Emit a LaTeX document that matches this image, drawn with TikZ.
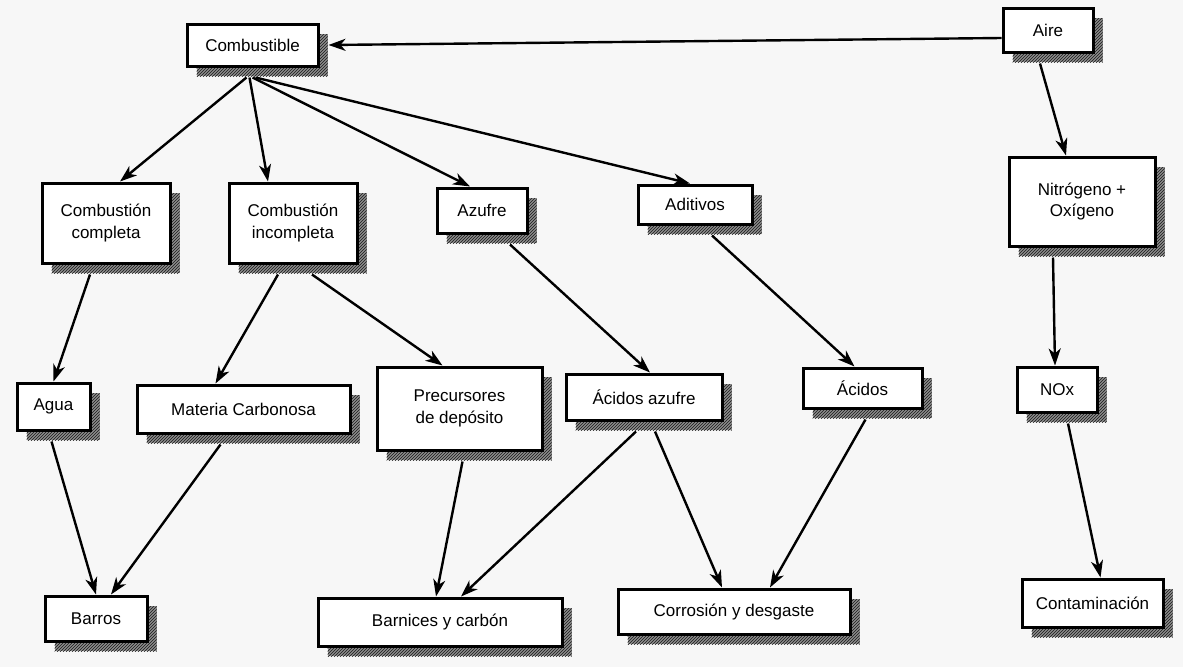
\documentclass[tikz,border=0pt]{standalone}
\usepackage{fontspec}
\setmainfont{Liberation Sans}
\usetikzlibrary{arrows.meta,shadows,patterns}

\begin{document}
\begin{tikzpicture}[x=1pt,y=-1pt,
  box/.style={draw=black, line width=3pt, fill=white, inner sep=0pt, align=center,
    font=\fontsize{17}{21.5}\selectfont,
    drop shadow={shadow xshift=9.5pt, shadow yshift=-10pt, opacity=1, fill=black!45},
    drop shadow={shadow xshift=9.5pt, shadow yshift=-10pt, opacity=1, pattern=north east lines, pattern color=black!90}},
  arr/.style={line width=2.4pt, -{Stealth[length=17pt,width=12pt,inset=5pt]}}]

\fill[black!3] (0,0) rectangle (1183,667);
\useasboundingbox (0,0) rectangle (1183,667);

% top row
\node[box, minimum width=131pt, minimum height=42pt] (comb) at (252.5,45) {Combustible};
\node[box, minimum width=90pt, minimum height=44pt] (aire) at (1048,30) {Aire};

% second row
\node[box, minimum width=128pt, minimum height=80pt] (cc) at (106,223) {Combustión\\completa};
\node[box, minimum width=128pt, minimum height=80pt] (ci) at (293,223) {Combustión\\incompleta};
\node[box, minimum width=90pt, minimum height=45pt] (azu) at (482,210.5) {Azufre};
\node[box, minimum width=114pt, minimum height=39pt] (adi) at (695,204.5) {Aditivos};
\node[box, minimum width=146pt, minimum height=89pt] (no) at (1082,201.5) {Nitrógeno +\\Oxígeno};

% third row
\node[box, minimum width=73pt, minimum height=47pt] (agua) at (53.5,406.5) {Agua};
\node[box, minimum width=213pt, minimum height=48pt] (mat) at (243.5,409) {Materia Carbonosa};
\node[box, minimum width=165pt, minimum height=83pt] (pre) at (459.5,408.5) {Precursores\\de depósito};
\node[box, minimum width=156pt, minimum height=46pt] (aaz) at (644,397) {Ácidos azufre};
\node[box, minimum width=119pt, minimum height=40pt] (aci) at (862.5,388) {Ácidos};
\node[box, minimum width=80pt, minimum height=45pt] (nox) at (1057,389.5) {NOx};

% bottom row
\node[box, minimum width=102pt, minimum height=45pt] (barros) at (96,618.5) {Barros};
\node[box, minimum width=244pt, minimum height=48pt] (barn) at (440,622) {Barnices y carbón};
\node[box, minimum width=232pt, minimum height=45pt] (corr) at (734,611.5) {Corrosión y desgaste};
\node[box, minimum width=141pt, minimum height=48pt] (cont) at (1092.5,603) {Contaminación};

% connectors
\draw[arr] ([yshift=-8pt]aire.west) -- ([xshift=9pt]comb.east);
\draw[arr] ([xshift=-6pt,yshift=-10pt]comb.south) -- ([xshift=14pt]cc.north);
\draw[arr] ([xshift=-3pt,yshift=-10pt]comb.south) -- ([xshift=-25pt]ci.north);
\draw[arr] ([xshift=0pt,yshift=-10pt]comb.south) -- ([xshift=-12pt]azu.north);
\draw[arr] ([xshift=3pt,yshift=-10pt]comb.south) -- ([xshift=-5pt]adi.north);

\draw[arr] ([xshift=-8pt,yshift=-10pt]aire.south) -- ([xshift=-16pt]no.north);
\draw[arr] ([xshift=-29pt,yshift=-10pt]no.south) -- ([xshift=-2pt]nox.north);
\draw[arr] ([xshift=11pt,yshift=-10pt]nox.south) -- ([xshift=8pt]cont.north);

\draw[arr] ([xshift=-16pt,yshift=-10pt]cc.south) -- (agua.north);
\draw[arr] ([xshift=-15pt,yshift=-10pt]ci.south) -- ([xshift=-28pt]mat.north);
\draw[arr] ([xshift=19pt,yshift=-10pt]ci.south) -- ([xshift=-17pt]pre.north);
\draw[arr] ([xshift=28pt,yshift=-10pt]azu.south) -- ([xshift=6pt]aaz.north);
\draw[arr] ([xshift=17pt,yshift=-10pt]adi.south) -- ([xshift=-8pt]aci.north);

\draw[arr] ([xshift=-2pt,yshift=-10pt]agua.south) -- (barros.north);
\draw[arr] ([xshift=-23pt,yshift=-10pt]mat.south) -- ([xshift=15pt]barros.north);
\draw[arr] ([xshift=3pt,yshift=-10pt]pre.south) -- ([xshift=-4pt]barn.north);
\draw[arr] ([xshift=-8pt,yshift=-10pt]aaz.south) -- ([xshift=21pt]barn.north);
\draw[arr] ([xshift=11pt,yshift=-10pt]aaz.south) -- ([xshift=-12pt]corr.north);
\draw[arr] ([xshift=3pt,yshift=-10pt]aci.south) -- ([xshift=36pt]corr.north);
\end{tikzpicture}
\end{document}
